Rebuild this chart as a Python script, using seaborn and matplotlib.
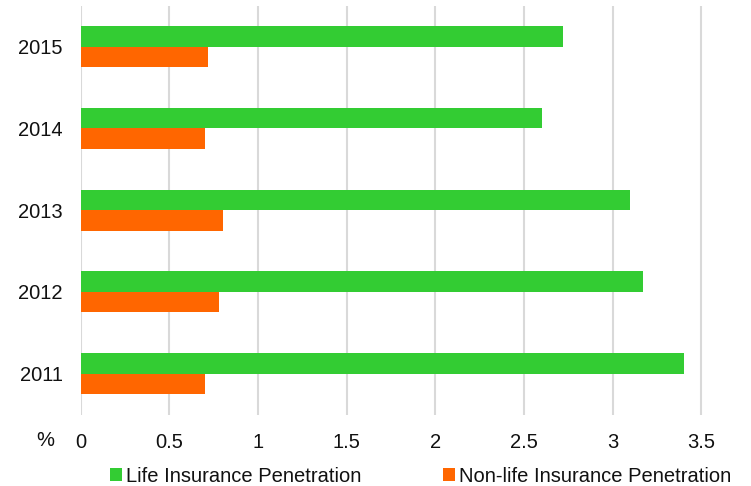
import matplotlib
matplotlib.use("Agg")
import matplotlib.pyplot as plt
import seaborn as sns
import pandas as pd
from matplotlib.patches import Patch

years = ["2015", "2014", "2013", "2012", "2011"]
life = [2.72, 2.60, 3.10, 3.17, 3.40]
nonlife = [0.72, 0.70, 0.80, 0.78, 0.70]
series_names = ["Life Insurance Penetration", "Non-life Insurance Penetration"]
colors = ["#33CC33", "#FF6600"]
xticks = [0, 0.5, 1, 1.5, 2, 2.5, 3, 3.5]
xticklabels = ["0", "0.5", "1", "1.5", "2", "2.5", "3", "3.5"]

df = pd.DataFrame({
    "year": years * 2,
    "value": life + nonlife,
    "series": [series_names[0]] * len(years) + [series_names[1]] * len(years),
})

sns.set_style("white")
plt.rcParams["font.family"] = ["Liberation Sans", "DejaVu Sans"]

W, H = 751, 486
fig = plt.figure(figsize=(W / 100, H / 100), dpi=100)
left = 80.7 / W
bottom = 1 - 414.5 / H
top = 1 - 5.7 / H
ax = fig.add_axes([left, bottom, 1 - left, top - bottom])

sns.barplot(data=df, y="year", x="value", hue="series", order=years,
            hue_order=series_names, palette=colors, orient="h",
            width=0.5, ax=ax, saturation=1, linewidth=0, legend=False)

xmax = (W - 80.7) / 177.3
ax.set_xlim(0, xmax)
ax.set_ylim(4.5, -0.5)
ax.set_xticks(xticks)
ax.set_xticklabels(xticklabels)
ax.xaxis.grid(True, color="#d9d9d9", linewidth=1.5)
ax.set_axisbelow(True)
for s in ax.spines.values():
    s.set_visible(False)
ax.tick_params(axis="both", length=0, labelsize=14.5, colors="#111111")
ax.tick_params(axis="x", pad=13)
ax.tick_params(axis="y", pad=13)
ax.set_xlabel("")
ax.set_ylabel("")

fig.text(45 / W, 1 - 440 / H, "%", ha="center", va="center", fontsize=14.5, color="#111111")

handles = [Patch(facecolor=c, edgecolor="none") for c in colors]
leg = fig.legend(handles, series_names, loc="center left",
                 bbox_to_anchor=(110 / W, 1 - 476 / H), ncol=2, frameon=False,
                 fontsize=14.5, handlelength=0.6, handleheight=0.6,
                 handletextpad=0.2, columnspacing=4.05, borderpad=0, borderaxespad=0)
for t in leg.get_texts():
    t.set_color("#111111")

fig.savefig("out.png", dpi=100)
